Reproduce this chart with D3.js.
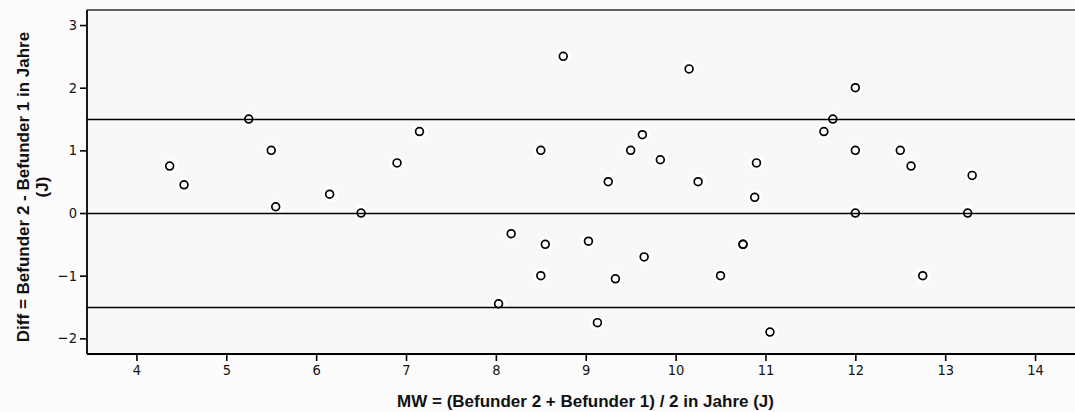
<!DOCTYPE html>
<html>
<head>
<meta charset="utf-8">
<script src="https://cdn.jsdelivr.net/npm/d3@7"></script>
<style>
  body { margin: 0; background: #ffffff; }
  svg { display: block; }
</style>
</head>
<body>
<script>
// Mittelwert (x) und Differenz (y) der beiden Befunder
var meanValues = [4.37, 4.53, 5.25, 5.5, 5.55, 6.15, 6.5, 6.9, 7.15, 8.03,
                  8.17, 8.5, 8.5, 8.55, 8.75, 9.03, 9.13, 9.25, 9.33, 9.5,
                  9.63, 9.65, 9.83, 10.15, 10.25, 10.5, 10.75, 10.75, 10.88, 10.9,
                  11.05, 11.65, 11.75, 12.0, 12.0, 12.0, 12.5, 12.62, 12.75, 13.25, 13.3];
var diffValues = [0.75, 0.45, 1.5, 1.0, 0.1, 0.3, 0.0, 0.8, 1.3, -1.45,
                  -0.33, 1.0, -1.0, -0.5, 2.5, -0.45, -1.75, 0.5, -1.05, 1.0,
                  1.25, -0.7, 0.85, 2.3, 0.5, -1.0, -0.5, -0.5, 0.25, 0.8,
                  -1.9, 1.3, 1.5, 2.0, 1.0, 0.0, 1.0, 0.75, -1.0, 0.0, 0.6];
var refLines = [1.5, 0, -1.5];
var xTicks = [4, 5, 6, 7, 8, 9, 10, 11, 12, 13, 14];
var yTicks = [-2, -1, 0, 1, 2, 3];
var xTitle = 'MW = (Befunder 2 + Befunder 1) / 2 in Jahre (J)';
var yTitle = ['Diff = Befunder 2 - Befunder 1 in Jahre', '(J)'];

var W = 1075, H = 412;
var plotLeft = 87, plotTop = 10, plotRight = 1080, plotBottom = 354;
var titleFont = '"Liberation Sans", Arial, sans-serif';
var tickFont = '"DejaVu Sans Condensed", "DejaVu Sans", sans-serif';

var x = d3.scaleLinear().domain([3.45, 14.5]).range([plotLeft, plotRight]);
var y = d3.scaleLinear().domain([-2.25, 3.24]).range([plotBottom, plotTop]);

var svg = d3.select('body').append('svg')
    .attr('width', W).attr('height', H);

svg.append('rect').attr('width', W).attr('height', H).attr('fill', '#fcfcfc');

svg.append('rect')
    .attr('x', plotLeft).attr('y', plotTop)
    .attr('width', plotRight - plotLeft).attr('height', plotBottom - plotTop)
    .attr('fill', '#f8f8f8');

var pts = meanValues.map(function(m, i) { return { m: m, d: diffValues[i] }; });

// soft white halo behind points (under the lines)
svg.append('g').selectAll('circle').data(pts).join('circle')
    .attr('cx', function(p) { return x(p.m); })
    .attr('cy', function(p) { return y(p.d); })
    .attr('r', 7.5).attr('fill', '#ffffff');

// top frame line
svg.append('line')
    .attr('x1', plotLeft).attr('x2', plotRight)
    .attr('y1', plotTop).attr('y2', plotTop)
    .attr('stroke', '#333').attr('stroke-width', 1.5);

// reference lines
svg.append('g').selectAll('line').data(refLines).join('line')
    .attr('x1', plotLeft).attr('x2', plotRight)
    .attr('y1', function(d) { return Math.round(y(d)) + 0.5; })
    .attr('y2', function(d) { return Math.round(y(d)) + 0.5; })
    .attr('stroke', '#000').attr('stroke-width', 1.6);

// points
svg.append('g').selectAll('circle').data(pts).join('circle')
    .attr('cx', function(p) { return x(p.m); })
    .attr('cy', function(p) { return y(p.d); })
    .attr('r', 3.9)
    .attr('fill', 'none').attr('stroke', '#000').attr('stroke-width', 1.7);

// axes
var xAxis = svg.append('g')
    .attr('transform', 'translate(0,' + plotBottom + ')')
    .call(d3.axisBottom(x).tickValues(xTicks).tickSize(7).tickPadding(4).tickFormat(d3.format('d')));
var yAxis = svg.append('g')
    .attr('transform', 'translate(' + plotLeft + ',0)')
    .call(d3.axisLeft(y).tickValues(yTicks).tickSize(7).tickPadding(3).tickFormat(d3.format('d')));

[xAxis, yAxis].forEach(function(ax) {
    ax.attr('font-size', null).attr('font-family', null);
    ax.select('.domain').attr('stroke', '#000').attr('stroke-width', 1.8);
    ax.selectAll('.tick line').attr('stroke', '#000').attr('stroke-width', 1.6);
    ax.selectAll('.tick text').attr('fill', '#111')
        .style('font-size', '14.5px').style('font-family', tickFont);
});
xAxis.select('.domain').attr('d', 'M' + plotLeft + ',0H' + plotRight);
yAxis.select('.domain').attr('d', 'M0,' + plotTop + 'V' + plotBottom);

// titles
svg.append('text')
    .attr('x', 585.5).attr('y', 407)
    .attr('text-anchor', 'middle')
    .style('font-family', titleFont)
    .style('font-size', '17px').style('font-weight', 'bold')
    .attr('fill', '#111')
    .text(xTitle);

var yt = svg.append('text')
    .attr('transform', 'translate(29,187) rotate(-90)')
    .attr('text-anchor', 'middle')
    .style('font-family', titleFont)
    .style('font-size', '17px').style('font-weight', 'bold')
    .attr('fill', '#111');
yt.selectAll('tspan').data(yTitle).join('tspan')
    .attr('x', 0).attr('dy', function(d, i) { return i === 0 ? 0 : 19; })
    .text(function(d) { return d; });
</script>
</body>
</html>
